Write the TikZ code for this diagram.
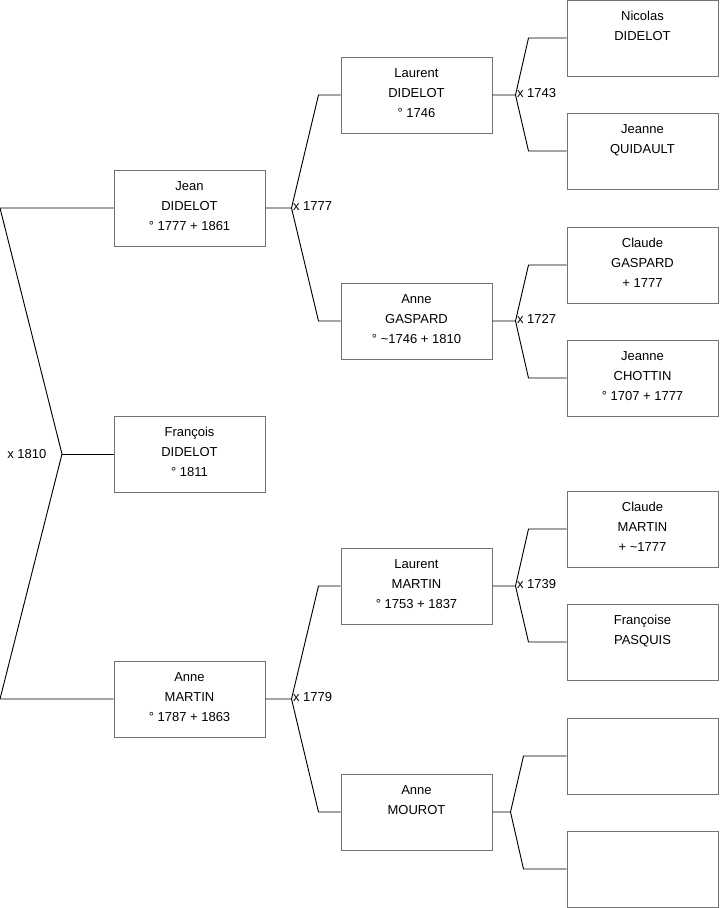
\documentclass[tikz,border=0pt]{standalone}
\usepackage{fontspec}
\setmainfont{Liberation Sans}
\usetikzlibrary{calc}
\newcommand{\fiche}[1]{\parbox[c][57pt][t]{113pt}{\centering\rule{0pt}{15.6pt}#1}}
\tikzset{
  pers/.style={draw=black!55, line width=0.75pt, inner sep=0pt, minimum width=113.25pt, minimum height=57pt, font=\fontsize{9.75}{15}\selectfont},
  lien/.style={draw=black, line width=0.7pt},
  mar/.style={font=\fontsize{9.75}{11}\selectfont, inner sep=1pt},
  arbre/.style={x=0.75pt, y=-0.75pt}
}
\begin{document}
\begin{tikzpicture}[arbre]
  \useasboundingbox (0,0) rectangle (719,908);
  % generation 1
  \node[pers] (jean) at (189.5,208) {\fiche{Jean\\DIDELOT\\° 1777 + 1861}};
  \node[pers] (francois) at (189.5,454) {\fiche{François\\DIDELOT\\° 1811}};
  \node[pers] (anneM) at (189.5,699) {\fiche{Anne\\MARTIN\\° 1787 + 1863}};
  % generation 2
  \node[pers] (laurentD) at (416.5,95) {\fiche{Laurent\\DIDELOT\\° 1746}};
  \node[pers] (anneG) at (416.5,321) {\fiche{Anne\\GASPARD\\° \textasciitilde1746 + 1810}};
  \node[pers] (laurentM) at (416.5,586) {\fiche{Laurent\\MARTIN\\° 1753 + 1837}};
  \node[pers] (anneMo) at (416.5,812) {\fiche{Anne\\MOUROT}};
  % generation 3
  \node[pers] (nicolas) at (642.5,38) {\fiche{Nicolas\\DIDELOT}};
  \node[pers] (jeanneQ) at (642.5,151) {\fiche{Jeanne\\QUIDAULT}};
  \node[pers] (claudeG) at (642.5,265) {\fiche{Claude\\GASPARD\\+ 1777}};
  \node[pers] (jeanneC) at (642.5,378) {\fiche{Jeanne\\CHOTTIN\\° 1707 + 1777}};
  \node[pers] (claudeM) at (642.5,529) {\fiche{Claude\\MARTIN\\+ \textasciitilde1777}};
  \node[pers] (francoise) at (642.5,642) {\fiche{Françoise\\PASQUIS}};
  \node[pers] (inc1) at (642.5,756) {\fiche{}};
  \node[pers] (inc2) at (642.5,869) {\fiche{}};

  % mariage des parents
  \coordinate (m1810) at (62,454);
  \draw[lien] (jean.west) -- (0,208) -- (m1810) -- (0,699) -- (anneM.west);
  \draw[lien] (francois.west) -- (m1810);
  \node[mar, anchor=east] at ($(m1810)+(-14,0)$) {x 1810};

  % couples
  \foreach \enf/\pere/\mere/\dv/\dc/\annee in {jean/laurentD/anneG/26/22/x 1777,
      anneM/laurentM/anneMo/26/22/x 1779,
      laurentD/nicolas/jeanneQ/23/38/x 1743,
      anneG/claudeG/jeanneC/23/38/x 1727,
      laurentM/claudeM/francoise/23/38/x 1739,
      anneMo/inc1/inc2/18/43/}{
    \draw[lien] (\enf.east) -- ++(\dv,0) coordinate (v) -- ($(\pere.west)+(-\dc,0)$) -- (\pere.west);
    \draw[lien] (v) -- ($(\mere.west)+(-\dc,0)$) -- (\mere.west);
    \node[mar, anchor=west] at ($(v)+(0,-2)$) {\annee};
  }
\end{tikzpicture}
\end{document}
